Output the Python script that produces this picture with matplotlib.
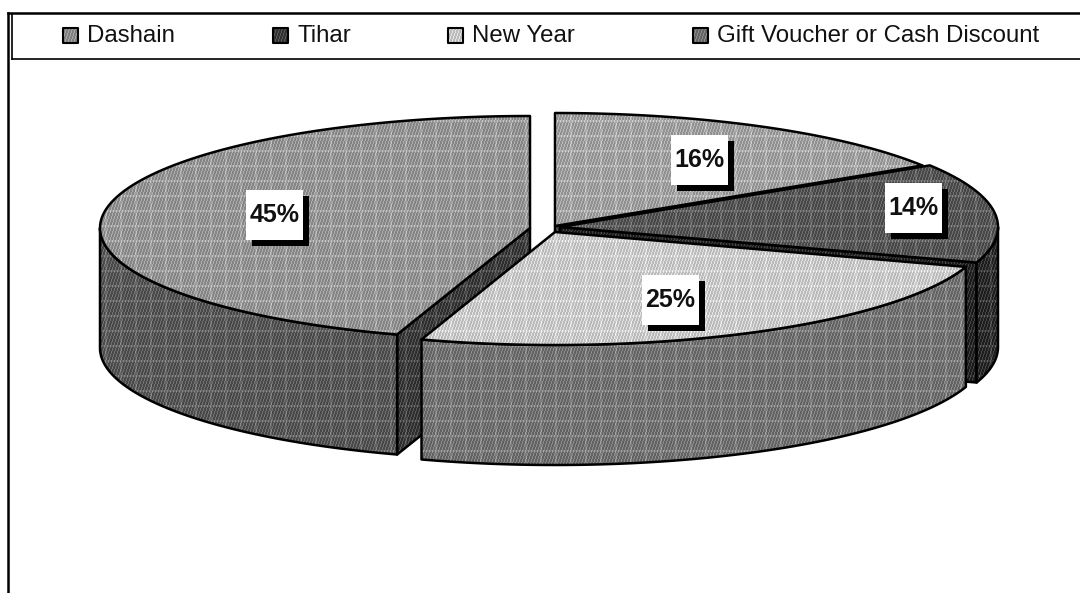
import numpy as np
import matplotlib
matplotlib.use("Agg")
import matplotlib.pyplot as plt
from matplotlib.patches import Polygon, Rectangle

categories = ["Dashain", "Tihar", "New Year", "Gift Voucher or Cash Discount"]
shares = [16, 14, 25, 45]
legend_text_x = [87, 297, 472, 717]
label_centres = [(699, 160), (913, 208), (670, 300), (274, 215)]

W, H = 1080, 593
DEPTH = 120

# centre x, centre y, semi-axes of the top face of each exploded slice
geometry = [
    (555, 226, 435, 113),
    (560, 227, 438, 115),
    (555, 232, 432, 113),
    (530, 228, 430, 112),
]
top_grey = [158, 84, 200, 146]
side_grey = [70, 44, 112, 86]
cut_grey = [60, 40, 100, 60]
legend_grey = [140, 62, 200, 112]


def texture(grey, line=30):
    # fine pixel dither with a lighter plaid on top
    yy, xx = np.mgrid[0:H, 0:W]
    img = grey + 40.0 * (((xx + yy // 3) % 3 == 0) * 1.0 - 0.33)
    img[(xx % 15 < 2) | (yy % 15 < 2)] += line
    return np.clip(img, 0, 255)


def fill(ax, pts, grey, lw=1.8, line=30, zorder=2):
    patch = Polygon(pts, closed=True, facecolor="none", edgecolor="black",
                    linewidth=lw, zorder=zorder + 0.1, joinstyle="round")
    ax.add_patch(patch)
    im = ax.imshow(texture(grey, line), cmap="gray", vmin=0, vmax=255,
                   extent=(0, W, H, 0), interpolation="nearest",
                   aspect="auto", zorder=zorder)
    im.set_clip_path(patch)


def arc(geo, a0, a1):
    cx, cy, a, b = geo
    th = np.radians(np.linspace(a0, a1, 120))
    return np.column_stack([cx + a * np.sin(th), cy - b * np.cos(th)])


def extrude(pts):
    # wall between an edge of the top face and the same edge one depth lower
    low = pts + np.array([0, DEPTH])
    return np.vstack([pts, low[::-1]])


fig = plt.figure(figsize=(W / 100, H / 100), dpi=100)
ax = fig.add_axes([0, 0, 1, 1])
ax.set_xlim(0, W)
ax.set_ylim(H, 0)
ax.axis("off")

# frame and legend strip
ax.plot([8, 8], [H, 13], color="black", lw=1.8, zorder=1)
ax.plot([8, W], [13, 13], color="black", lw=1.8, zorder=1)
ax.plot([12, 12], [14, 59], color="black", lw=1.2, zorder=1)
ax.plot([12, W], [59, 59], color="black", lw=1.2, zorder=1)

edges = np.concatenate([[0], np.cumsum(shares)]) / np.sum(shares) * 360

# painter's order: large back slice first, nearest slice last
z = 2
for i in [3, 0, 1, 2]:
    geo = geometry[i]
    a0, a1 = edges[i], edges[i + 1]
    apex = np.array(geo[:2], dtype=float)
    rim = arc(geo, a0, a1)

    # cut faces that show from the front
    if i == 3:
        fill(ax, extrude(np.vstack([rim[0], apex])), cut_grey[i], line=22, zorder=z)
        z += 1
    if i == 0:
        fill(ax, extrude(np.vstack([apex, rim[-1]])), cut_grey[i], zorder=z)
        z += 1
    if i == 1:
        fill(ax, extrude(np.vstack([apex, rim[-1]])), cut_grey[i], line=14, zorder=z)
        z += 1

    # outer wall, only the part of the rim facing the viewer
    lo, hi = max(a0, 90), min(a1, 270)
    if hi > lo:
        fill(ax, extrude(arc(geo, lo, hi)), side_grey[i], line=24, zorder=z)
        z += 1

    fill(ax, np.vstack([apex, rim]), top_grey[i], line=24 if i != 2 else 16, zorder=z)
    z += 1

# value labels with drop shadow
for share, (x, y) in zip(shares, label_centres):
    ax.add_patch(Rectangle((x - 28 + 6, y - 25 + 6), 57, 50, facecolor="black",
                           edgecolor="none", zorder=40))
    ax.add_patch(Rectangle((x - 28, y - 25), 57, 50, facecolor="white",
                           edgecolor="none", zorder=41))
    ax.text(x + 0.5, y, f"{share}%", family="Liberation Sans", fontweight="bold",
            fontsize=18, ha="center", va="center", color="#111111", zorder=42)

# legend
for name, tx, grey in zip(categories, legend_text_x, legend_grey):
    fill(ax, [(tx - 24, 28), (tx - 9, 28), (tx - 9, 43), (tx - 24, 43)],
         grey, lw=1.5, line=0, zorder=z)
    z += 1
    ax.text(tx, 36, name, family="Liberation Sans", fontsize=17.3,
            ha="left", va="center", color="#111111", zorder=50)

ax.set_xlim(0, W)
ax.set_ylim(H, 0)
fig.savefig("out.png", dpi=100, facecolor="white")
